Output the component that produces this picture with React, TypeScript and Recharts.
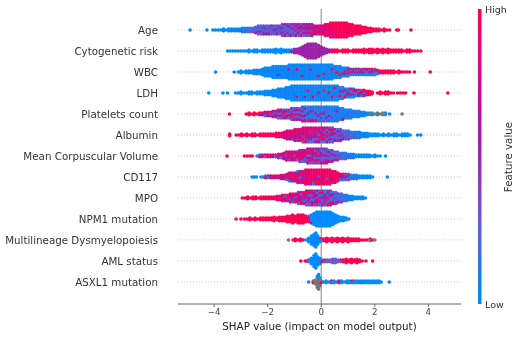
import { ScatterChart, Scatter, XAxis, YAxis, ReferenceLine } from 'recharts';

type Column = [number, string];

document.body.style.margin = '0';

// feature names top to bottom
const features = [
  'Age',
  'Cytogenetic risk',
  'WBC',
  'LDH',
  'Platelets count',
  'Albumin',
  'Mean Corpuscular Volume',
  'CD117',
  'MPO',
  'NPM1 mutation',
  'Multilineage Dysmyelopoiesis',
  'AML status',
  'ASXL1 mutation',
];

const xTicks = [-4, -2, 0, 2, 4];

// each column: SHAP value, then one char per dot with its feature value level
// 0 = low (blue), 9 = high (pink), g = missing (grey)
const age: Column[] = [
  [-4.9, '0'], [-4.27, '0'], [-4.05, '0'], [-3.95, '0'], [-3.85, '0'], [-3.75, '0'], [-3.65, '00'], [-3.55, '0'], [-3.45, '00'], [-3.35, '00'],
  [-3.25, '00'], [-3.15, '01'], [-3.05, '01'], [-2.95, '011'], [-2.85, '011'], [-2.75, '112'], [-2.65, '122'], [-2.55, '123'], [-2.45, '1325'], [-2.35, '23152'],
  [-2.25, '13252'], [-2.15, '25135'], [-2.05, '31425'], [-1.95, '24135'], [-1.85, '52413'], [-1.75, '31542'], [-1.65, '42516'], [-1.55, '35142'], [-1.45, '415263'], [-1.35, '532416'],
  [-1.25, '461352'], [-1.15, '354126'], [-1.05, '526341'], [-0.95, '463526'], [-0.85, '546372'], [-0.75, '365427'], [-0.65, '546362'], [-0.55, '656473'], [-0.45, '567463'], [-0.35, '657485'],
  [-0.25, '67586'], [-0.15, '76857'], [-0.05, '78687'], [0.05, '87969'], [0.15, '897689'], [0.25, '978896'], [0.35, '8999788'], [0.45, '9989798'], [0.55, '9899879'], [0.65, '9998989'],
  [0.75, '8999989'], [0.85, '9989999'], [0.95, '9999898'], [1.05, '999989'], [1.15, '989999'], [1.25, '99989'], [1.35, '99999'], [1.45, '89999'], [1.55, '9999'], [1.65, '9999'],
  [1.75, '999'], [1.85, '999'], [1.95, '99'], [2.05, '99'], [2.15, '99'], [2.25, '9'], [2.35, '99'], [2.45, '9'], [2.55, '9'], [2.82, '9'], [2.88, '9'], [3.35, '9'],
];

const cytogenetic: Column[] = [
  [-3.5, '0'], [-3.4, '0'], [-3.3, '0'], [-3.2, '0'], [-3.1, '0'], [-3, '0'], [-2.9, '0'], [-2.8, '0'], [-2.7, '00'], [-2.6, '0'],
  [-2.5, '00'], [-2.4, '00'], [-2.3, '0'], [-2.2, '00'], [-2.1, '00'], [-2, '00'], [-1.9, '00'], [-1.8, '00'], [-1.7, '000'], [-1.6, '00'],
  [-1.5, '000'], [-1.4, '00'], [-1.3, '00'], [-1.2, '00'], [-1.1, '05'], [-1, '555'], [-0.9, '555'], [-0.8, '5555'], [-0.7, '55555'], [-0.6, '555555'],
  [-0.5, '5555555'], [-0.4, '5555555'], [-0.3, '5555555'], [-0.2, '5555555'], [-0.1, '555555'], [0, '55555'], [0.1, '5555'], [0.2, '555'], [0.3, '55'], [0.4, '59'],
  [0.5, '99'], [0.6, '99'], [0.7, '9'], [0.8, '99'], [0.9, '99'], [1, '99'], [1.1, '9'], [1.2, '99'], [1.3, '99'], [1.4, '99'],
  [1.5, '99'], [1.6, '999'], [1.7, '99'], [1.8, '999'], [1.9, '999'], [2, '99'], [2.1, '999'], [2.2, '99'], [2.3, '999'], [2.4, '99'],
  [2.5, '999'], [2.6, '99'], [2.7, '99'], [2.8, '99'], [2.9, '99'], [3, '99'], [3.1, '9'], [3.2, '99'], [3.3, '99'], [3.4, '9'], [3.5, '9'], [3.6, '9'], [3.72, '9'],
];

const wbc: Column[] = [
  [-3.95, '0'], [-3.25, '0'], [-3.1, '0'], [-3, '00'], [-2.9, '0'], [-2.8, '00'], [-2.7, '00'], [-2.6, '00'], [-2.5, '000'], [-2.4, '001'],
  [-2.3, '010'], [-2.2, '0000'], [-2.1, '00100'], [-2, '01000'], [-1.9, '00200'], [-1.8, '001000'], [-1.7, '000100'], [-1.6, '010050'], [-1.5, '000010'], [-1.4, '001000'],
  [-1.3, '020001'], [-1.2, '0060100'], [-1.1, '0001000'], [-1, '0100200'], [-0.9, '0090000'], [-0.8, '0002000'], [-0.7, '0100090'], [-0.6, '0001000'], [-0.5, '0200100'], [-0.4, '0090010'],
  [-0.3, '0010200'], [-0.2, '0100001'], [-0.1, '0002090'], [0, '0100000'], [0.1, '0000901'], [0.2, '0200010'], [0.3, '1000200'], [0.4, '0090100'], [0.5, '010200'], [0.6, '002901'],
  [0.7, '100090'], [0.8, '02150'], [0.9, '10950'], [1, '25190'], [1.1, '5192'], [1.2, '1950'], [1.3, '9250'], [1.4, '7190'], [1.5, '2950'], [1.6, '9170'],
  [1.7, '5920'], [1.8, '9150'], [1.9, '7950'], [2, '2910'], [2.1, '991'], [2.2, '97'], [2.3, '99'], [2.4, '99'], [2.5, '99'], [2.6, '99'],
  [2.7, '99'], [2.8, '9'], [2.9, '99'], [3, '9'], [3.1, '9'], [3.2, '9'], [3.3, '9'], [3.48, '9'], [4.07, '9'],
];

const ldh: Column[] = [
  [-4.2, '0'], [-3.67, '0'], [-3.5, '0'], [-3.2, '0'], [-3.1, '0'], [-3, '00'], [-2.9, '0'], [-2.8, '0'], [-2.7, '00'], [-2.6, '00'],
  [-2.5, '0'], [-2.4, '00'], [-2.3, '00'], [-2.2, '00'], [-2.1, '000'], [-2, '000'], [-1.9, '010'], [-1.8, '0010'], [-1.7, '0000'], [-1.6, '01000'],
  [-1.5, '00100'], [-1.4, '00020'], [-1.3, '010000'], [-1.2, '000100'], [-1.1, '0010000'], [-1, '0200100'], [-0.9, '0000090'], [-0.8, '0100000'], [-0.7, '0020010'], [-0.6, '0100050'],
  [-0.5, '0090000'], [-0.4, '0010200'], [-0.3, '1000090'], [-0.2, '0200100'], [-0.1, '0009010'], [0, '0100020'], [0.1, '0090001'], [0.2, '2000100'], [0.3, '0109000'], [0.4, '0020090'],
  [0.5, '0900100'], [0.6, '0100200'], [0.7, '205090'], [0.8, '019002'], [0.9, '25019'], [1, '01590'], [1.1, '92150'], [1.2, '19250'], [1.3, '5921'], [1.4, '9195'],
  [1.5, '2950'], [1.6, '9915'], [1.7, '979'], [1.8, '999'], [1.9, '99'], [2.1, '9'], [2.2, '99'], [2.3, '9'], [2.4, '99'], [2.5, '99'],
  [2.6, '9'], [2.7, '9'], [2.85, '9'], [2.95, '9'], [3.05, '9'], [3.15, '9'], [3.46, '9'], [4.73, '9'],
];

const platelets: Column[] = [
  [-3.43, '9'], [-2.8, '9'], [-2.7, '98'], [-2.6, '9'], [-2.5, '98'], [-2.4, '9'], [-2.3, '97'], [-2.2, '86'], [-2.1, '961'], [-2, '785'],
  [-1.9, '917'], [-1.8, '6825'], [-1.7, '7195'], [-1.6, '48162'], [-1.5, '59273'], [-1.4, '16835'], [-1.3, '47295'], [-1.2, '38162'], [-1.1, '514793'], [-1, '162835'],
  [-0.9, '473915'], [-0.8, '251736'], [-0.7, '4082515'], [-0.6, '1502718'], [-0.5, '0315014'], [-0.4, '2051039'], [-0.3, '0140215'], [-0.2, '1025018'], [-0.1, '0310521'], [0, '2017041'],
  [0.1, '0215003'], [0.2, '1030192'], [0.3, '0120501'], [0.4, '0102140'], [0.5, '2010301'], [0.6, '0150012'], [0.7, '101020'], [0.8, '020105'], [0.9, '10012'], [1, '00301'],
  [1.1, '01020'], [1.2, '0100'], [1.3, '0210'], [1.4, '0001'], [1.5, '020'], [1.6, '010'], [1.7, '00'], [1.8, '0g'], [1.9, 'g0'], [2, 'g'],
  [2.1, 'g0'], [2.2, 'g'], [2.3, 'gg'], [2.4, '0g'], [2.55, '0'], [3.02, 'g'],
];

const albumin: Column[] = [
  [-3.42, '99'], [-3.18, '9'], [-3.08, '9'], [-2.98, '99'], [-2.88, '9'], [-2.78, '99'], [-2.68, '9'], [-2.58, '99'], [-2.48, '99'], [-2.38, '9'],
  [-2.28, '99'], [-2.18, '99'], [-2.08, '99'], [-1.98, '99'], [-1.88, '98'], [-1.78, '89'], [-1.68, '979'], [-1.58, '898'], [-1.48, '978'], [-1.38, '8697'],
  [-1.28, '97685'], [-1.18, '68957'], [-1.08, '79685'], [-0.98, '869575'], [-0.88, '968574'], [-0.78, '796859'], [-0.68, '5867493'], [-0.58, '8695748'], [-0.48, '7958681'], [-0.38, '6849572'],
  [-0.28, '9758613'], [-0.18, '6948527'], [-0.08, '8571946'], [0.02, '7469582'], [0.12, '5817492'], [0.22, '6294815'], [0.32, '4719362'], [0.42, '3856142'], [0.52, '528136'], [0.62, '163425'],
  [0.72, '341526'], [0.82, '21435'], [0.92, '13241'], [1.02, '21324'], [1.12, '1203'], [1.22, '0213'], [1.32, '1020'], [1.42, '0102'], [1.52, '010'], [1.62, '001'],
  [1.72, '000'], [1.82, '00'], [1.92, '00'], [2.02, '00'], [2.12, '00'], [2.22, '0'], [2.32, '00'], [2.42, '0'], [2.52, '00'], [2.62, '0'],
  [2.72, '00'], [2.82, '00'], [2.92, '0'], [3.02, '00'], [3.12, '00'], [3.22, '00'], [3.32, '0'], [3.6, '0'], [3.72, '0'],
];

const mcv: Column[] = [
  [-3.52, '9'], [-2.87, '9'], [-2.77, '9'], [-2.67, '9'], [-2.58, '9'], [-2.4, '1'], [-2.3, '09'], [-2.2, '87'], [-2.1, '92'], [-2, '79'],
  [-1.9, '86'], [-1.8, '95'], [-1.7, '71'], [-1.6, '897'], [-1.5, '862'], [-1.4, '7958'], [-1.3, '85176'], [-1.2, '69584'], [-1.1, '78695'], [-1, '85179'],
  [-0.9, '69783'], [-0.8, '586974'], [-0.7, '768592'], [-0.6, '859613'], [-0.5, '6972845'], [-0.4, '7581692'], [-0.3, '5968473'], [-0.2, '6175284'], [-0.1, '5849163'], [0, '4257136'],
  [0.1, '5136249'], [0.2, '3415267'], [0.3, '263415'], [0.4, '415236'], [0.5, '32514'], [0.6, '13425'], [0.7, '2143'], [0.8, '3102'], [0.9, '1203'], [1, '011'],
  [1.1, '102'], [1.2, '011'], [1.3, '00'], [1.4, '01'], [1.5, '00'], [1.6, '00'], [1.7, '00'], [1.8, '00'], [1.9, '0'], [2, '00'],
  [2.1, '0'], [2.2, '0'], [2.4, '0'],
];

const cd117: Column[] = [
  [-2.58, '0'], [-2.5, '0'], [-2.42, '0'], [-2.25, '0'], [-2.17, '0'], [-2.08, '09'], [-1.98, '91'], [-1.88, '68'], [-1.78, '97'], [-1.68, '85'],
  [-1.58, '79'], [-1.48, '967'], [-1.38, '895'], [-1.28, '7691'], [-1.18, '85971'], [-1.08, '96857'], [-0.98, '78695'], [-0.88, '159867'], [-0.78, '697185'], [-0.68, '869579'],
  [-0.58, '7968597'], [-0.48, '9879689'], [-0.38, '8997986'], [-0.28, '9688791'], [-0.18, '7998698'], [-0.08, '8971989'], [0.02, '9887969'], [0.12, '7989896'], [0.22, '9798189'], [0.32, '8979798'],
  [0.42, '988979'], [0.52, '897986'], [0.62, '97898'], [0.72, '8971'], [0.82, '9581'], [0.92, '8162'], [1.02, '2913'], [1.12, '101'], [1.22, '021'], [1.32, '100'],
  [1.42, '01'], [1.52, '00'], [1.62, '00'], [1.72, '00'], [1.82, '00'], [1.92, '0'], [2.47, '0'],
];

const mpo: Column[] = [
  [-2.95, '9'], [-2.85, '9'], [-2.75, '99'], [-2.65, '9'], [-2.55, '99'], [-2.45, '99'], [-2.35, '9'], [-2.25, '99'], [-2.15, '99'], [-2.05, '99'],
  [-1.95, '99'], [-1.85, '98'], [-1.75, '89'], [-1.65, '898'], [-1.55, '979'], [-1.45, '8796'], [-1.35, '9168'], [-1.25, '7985'], [-1.15, '86917'], [-1.05, '79581'],
  [-0.95, '86179'], [-0.85, '598671'], [-0.75, '716859'], [-0.65, '869517'], [-0.55, '7859162'], [-0.45, '5917843'], [-0.35, '6834175'], [-0.25, '4758163'], [-0.15, '5163794'], [-0.05, '3815472'],
  [0.05, '4916235'], [0.15, '2175491'], [0.25, '3518429'], [0.35, '4163275'], [0.45, '253146'], [0.55, '312405'], [0.65, '42135'], [0.75, '13024'], [0.85, '2103'], [0.95, '1020'],
  [1.05, '011'], [1.15, '100'], [1.25, '00'], [1.35, '01'], [1.45, '00'], [1.55, '00'], [1.65, '0'],
];

const npm1: Column[] = [
  [-3.18, '9'], [-3, '9'], [-2.87, '9'], [-2.77, '9'], [-2.67, '99'], [-2.57, '9'], [-2.47, '99'], [-2.37, '9'], [-2.27, '99'], [-2.17, '99'],
  [-2.07, '99'], [-1.97, '99'], [-1.87, '99'], [-1.77, '999'], [-1.67, '99'], [-1.57, '999'], [-1.47, '999'], [-1.37, '999'], [-1.27, '9999'], [-1.17, '9999'],
  [-1.07, '99999'], [-0.97, '9999'], [-0.87, '99999'], [-0.77, '99999'], [-0.67, '99999'], [-0.57, '9999'], [-0.47, '0999'], [-0.37, '00005'], [-0.27, '000000'], [-0.17, '0000000'],
  [-0.07, '0000000'], [0.03, '0000000'], [0.13, '0000000'], [0.23, '0000000'], [0.33, '0000000'], [0.43, '000000'], [0.53, '00000'], [0.63, '0000'], [0.73, '000'], [0.83, '000'],
  [0.93, '00'], [1.03, '0'],
];

const dysmyelopoiesis: Column[] = [
  [-1.22, 'g'], [-1.05, '9'], [-0.97, '99'], [-0.87, '9'], [-0.77, '99'], [-0.67, '9'], [-0.57, '0'], [-0.47, '000'], [-0.37, '00000'], [-0.27, '000000'],
  [-0.2, '0000000'], [-0.13, '00000'], [-0.05, '000'], [0, '90'], [0.1, '99'], [0.2, '999'], [0.3, '99'], [0.4, '999'], [0.5, '99'], [0.6, '999'],
  [0.7, '99'], [0.8, '999'], [0.9, '99'], [1, '999'], [1.1, '99'], [1.2, '99'], [1.3, '99'], [1.4, '99'], [1.5, '9'], [1.6, '9'],
  [1.7, '9'], [1.82, '9g'], [1.9, '9'], [2, 'g'],
];

const amlStatus: Column[] = [
  [-0.76, '9'], [-0.6, '9'], [-0.54, '9'], [-0.47, '00'], [-0.37, '0000'], [-0.27, '000000'], [-0.2, '0000000'], [-0.13, '00000'], [-0.05, '0000'], [0.03, '09'],
  [0.13, '93'], [0.23, '32'], [0.33, '23'], [0.43, '323'], [0.53, '232'], [0.63, '33'], [0.73, '93'], [0.83, '99'], [0.93, '999'], [1.03, '99'],
  [1.13, '999'], [1.23, '99'], [1.33, '999'], [1.43, '99'], [1.53, '9'], [1.67, '9'], [1.92, '9'],
];

const asxl1: Column[] = [
  [-0.47, '0'], [-0.3, 'g9'], [-0.22, 'ggg'], [-0.15, '0ggggg'], [-0.1, '00gggggg'], [-0.05, '0gggg'], [0, 'g9'], [0.08, '0'], [0.18, '00'], [0.28, '0'],
  [0.38, '90'], [0.48, '00'], [0.58, '0'], [0.66, '99'], [0.76, '00'], [0.86, '0'], [0.96, '00'], [1.06, '00'], [1.16, '90'], [1.26, '00'],
  [1.36, '00'], [1.46, '00'], [1.56, '00'], [1.66, '00'], [1.76, '00'], [1.86, '00'], [1.96, '00'], [2.06, '00'], [2.16, '00'], [2.24, '0'], [2.54, '0'],
];

const rows = [age, cytogenetic, wbc, ldh, platelets, albumin, mcv, cd117, mpo, npm1, dysmyelopoiesis, amlStatus, asxl1];

const palette: Record<string, string> = {
  '0': '#008bfb',
  '1': '#1e78ee',
  '2': '#5a62dd',
  '3': '#7a4ecb',
  '4': '#8c38b8',
  '5': '#9b22a8',
  '6': '#b8109c',
  '7': '#d40888',
  '8': '#ec0470',
  '9': '#ff0051',
  g: '#777777',
};

// half height of a stack, in row units, by its number of dots: short stacks stay
// thin like the shap tails, tall ones open up into the lens shape
const STACK_HALF = [0, 0, 0.04, 0.08, 0.13, 0.19, 0.26, 0.33, 0.35];

// spread the dots of a column evenly around the row centre, like the shap beeswarm
function toDots(columns: Column[], row: number) {
  return columns.flatMap(([x, stack]) => {
    const half = STACK_HALF[stack.length];
    const gap = stack.length > 1 ? (2 * half) / (stack.length - 1) : 0;
    return stack.split('').map((level, i) => ({
      x,
      y: row - half + i * gap,
      color: palette[level],
    }));
  });
}

function Dot(props: any) {
  return <circle cx={props.cx} cy={props.cy} r={1.8} fill={props.payload.color} />;
}

function FeatureTick(props: any) {
  return (
    <text x={158} y={props.y} dy={3.6} textAnchor="end" fontSize={10.3} fill="#333333">
      {features[props.payload.value]}
    </text>
  );
}

export default function App() {
  return (
    <div style={{ position: 'relative', width: 520, height: 337, filter: 'blur(0.35px)', fontFamily: 'DejaVu Sans' }}>
      <ScatterChart width={520} height={337} margin={{ top: 9, right: 59, bottom: 0, left: 0 }}>
        <XAxis
          type="number"
          dataKey="x"
          domain={[-5.35, 5.22]}
          ticks={xTicks}
          tickFormatter={(v: number) => String(v).replace('-', '−')}
          tick={{ fontSize: 8.7, fill: '#444444' }}
          tickSize={3}
          stroke="#666666"
          height={33}
          label={{ value: 'SHAP value (impact on model output)', position: 'insideBottom', offset: 7, fontSize: 10.3, fill: '#222222' }}
        />
        <YAxis
          type="number"
          dataKey="y"
          reversed
          domain={[-1, 13.05]}
          ticks={features.map((_, i) => i)}
          interval={0}
          tick={FeatureTick}
          tickLine={false}
          axisLine={false}
          width={178}
        />
        {features.map((name, i) => (
          <ReferenceLine key={name} y={i} stroke="#cccccc" strokeDasharray="1 2" />
        ))}
        <ReferenceLine x={0} stroke="#999999" strokeWidth={1.2} />
        {rows.map((columns, i) => (
          <Scatter key={features[i]} data={toDots(columns, i)} shape={Dot} isAnimationActive={false} />
        ))}
      </ScatterChart>
      <svg width={520} height={337} style={{ position: 'absolute', left: 0, top: 0 }}>
        <defs>
          <linearGradient id="featureValue" x1="0" y1="1" x2="0" y2="0">
            {Object.keys(palette)
              .filter((k) => k !== 'g')
              .map((k) => (
                <stop key={k} offset={Number(k) / 9} stopColor={palette[k]} />
              ))}
          </linearGradient>
        </defs>
        <rect x={478} y={9} width={3.5} height={295} fill="url(#featureValue)" />
        <text x={485} y={13} fontSize={9.5} fill="#333333">High</text>
        <text x={485} y={308} fontSize={9.5} fill="#333333">Low</text>
        <text transform="translate(512,157) rotate(-90)" textAnchor="middle" fontSize={10.3} fill="#333333">Feature value</text>
      </svg>
    </div>
  );
}
